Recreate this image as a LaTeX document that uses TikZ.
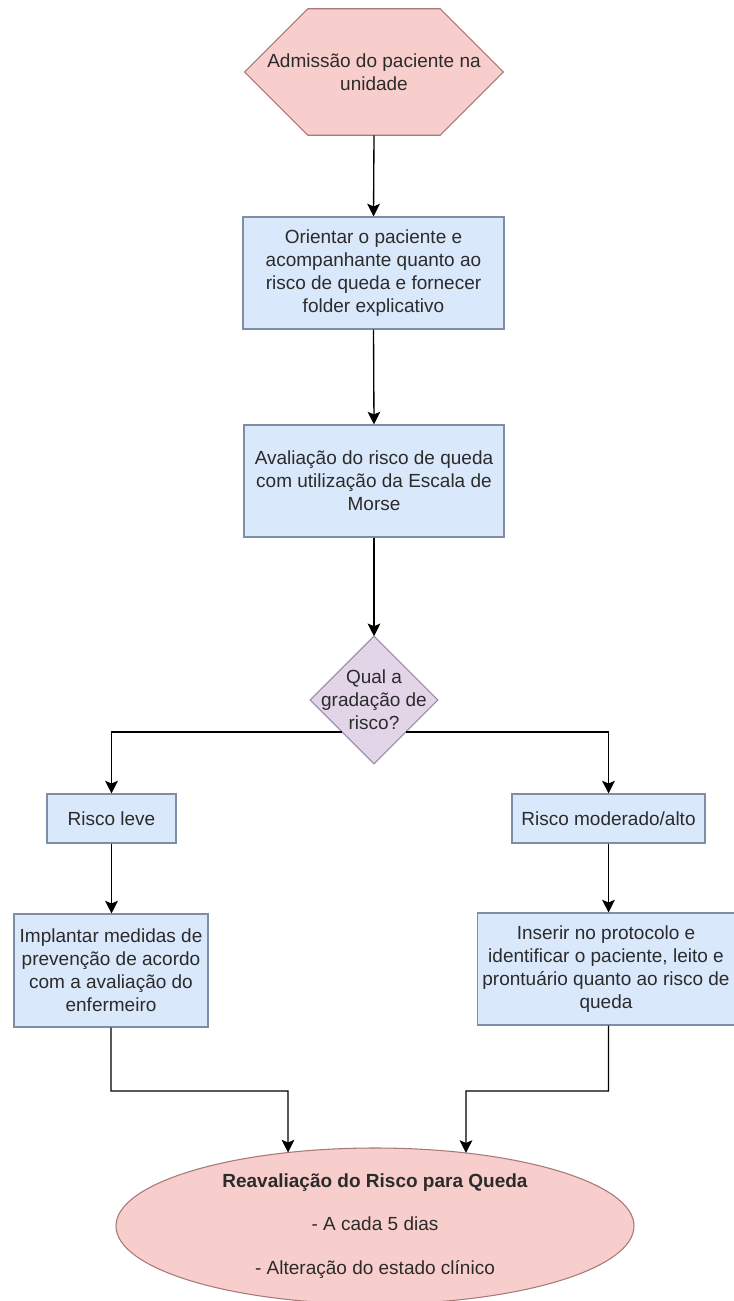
\documentclass[tikz,border=0pt]{standalone}
\usepackage{fontspec}
\setmainfont{Liberation Sans}
\usetikzlibrary{arrows.meta,calc,intersections,shapes.geometric}
\definecolor{textc}{HTML}{2B2B2B}
\definecolor{boxfill}{HTML}{DAE8FC}
\definecolor{boxline}{HTML}{7D8EA6}
\definecolor{pinkfill}{HTML}{F8CECC}
\definecolor{pinkline}{HTML}{A9787A}
\definecolor{lilacfill}{HTML}{E1D5E7}
\definecolor{lilacline}{HTML}{9B88A5}
\pgfdeclarelayer{back}
\pgfdeclarelayer{bg}
\pgfsetlayers{back,bg,main}
\begin{document}
\begin{tikzpicture}[x=0.75pt,y=-0.75pt,
  font=\fontsize{14.25}{17.25}\selectfont,
  wh/.style 2 args={minimum width=#1*0.75pt, minimum height=#2*0.75pt},
  txt/.style={text=textc, align=center, inner sep=0pt},
  box/.style={txt, draw=boxline, fill=boxfill, line width=0.8pt},
  shapeline/.style={line width=0.8pt},
  arr/.style={draw=black, line width=1pt, -{Stealth[length=9.5pt,width=9.5pt,inset=2pt]}}]
\begin{pgfonlayer}{back}
\fill[white] (0,0) rectangle (734,1301);
\end{pgfonlayer}
\useasboundingbox (0,0) rectangle (734,1301);

% start hexagon (text node, outline drawn below)
\node[txt, wh={258}{126}] (adm) at (374,72) {Admissão do paciente na\\unidade};
\begin{pgfonlayer}{bg}
\path[shapeline, draw=pinkline, fill=pinkfill]
  (adm.west) -- ($(adm.north west)!0.244!(adm.north east)$)
  -- ($(adm.north east)!0.244!(adm.north west)$) -- (adm.east)
  -- ($(adm.south east)!0.244!(adm.south west)$)
  -- ($(adm.south west)!0.244!(adm.south east)$) -- cycle;
\end{pgfonlayer}

\node[box, wh={261}{112}] (ori) at (373.5,273)
  {Orientar o paciente e\\acompanhante quanto ao\\risco de queda e fornecer\\folder explicativo};
\node[box, wh={260}{112}] (aval) at (374,481)
  {Avaliação do risco de queda\\com utilização da Escala de\\Morse};

% decision diamond (text node, outline drawn below)
\node[txt, wh={127}{127}] (qual) at (374,700) {Qual a\\gradação de\\risco?};
\begin{pgfonlayer}{bg}
\path[shapeline, draw=lilacline, fill=lilacfill]
  (qual.north) -- (qual.east) -- (qual.south) -- (qual.west) -- cycle;
\end{pgfonlayer}

\node[box, wh={129}{49}] (leve) at (111.5,818.5) {Risco leve};
\node[box, wh={193}{49}] (mod) at (608.5,818.5) {Risco moderado/alto};
\node[box, wh={194}{113}] (impl) at (111,970.5)
  {Implantar medidas de\\prevenção de acordo\\com a avaliação do\\enfermeiro};
\node[box, wh={257}{112}] (ins) at (606,969)
  {Inserir no protocolo e\\identificar o paciente, leito e\\prontuário quanto ao risco de\\queda};

\node[txt, ellipse, draw=pinkline, fill=pinkfill, shapeline, wh={518}{156}, name path=fimpath] (fim) at (375,1226)
  {\textbf{Reavaliação do Risco para Queda}\\[15.5pt]- A cada 5 dias\\[15.5pt]- Alteração do estado clínico};

% connectors
\draw[arr] (adm.south) -- (ori.north);
\draw[arr] (ori.south) -- (aval.north);
\draw[arr] (aval.south) -- (qual.north);
\draw[arr] ($(qual.west)!0.5!(qual.south)$) -| (leve.north);
\draw[arr] ($(qual.east)!0.5!(qual.south)$) -| (mod.north);
\draw[arr] (leve.south) -- (impl.north -| leve.south);
\draw[arr] (mod.south) -- (ins.north -| mod.south);

\coordinate (j1) at (288,1091);
\coordinate (j2) at (466,1091);
\path[name path=v1] (j1) -- ++(0,200);
\path[name path=v2] (j2) -- ++(0,200);
\path[name intersections={of=fimpath and v1, by=e1}];
\path[name intersections={of=fimpath and v2, by=e2}];
\draw[arr] (impl.south) |- (j1) -- (e1);
\draw[arr] (ins.south -| mod.south) |- (j2) -- (e2);
\end{tikzpicture}
\end{document}
